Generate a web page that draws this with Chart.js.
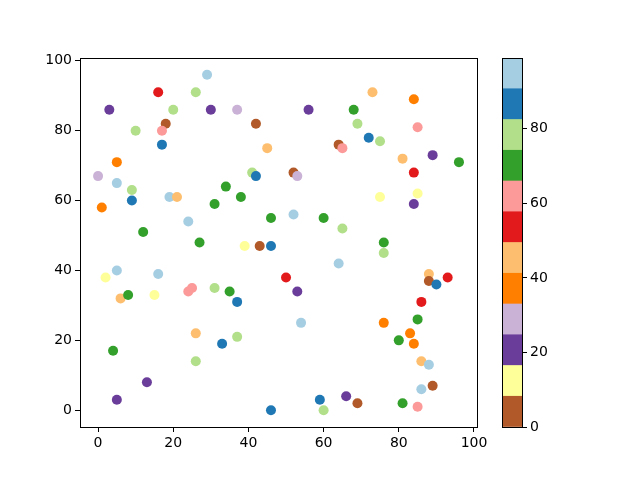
<!DOCTYPE html>
<html>
<head>
<meta charset="utf-8">
<script src="https://cdn.jsdelivr.net/npm/chart.js@4"></script>
<style>
  body { margin: 0; background: #fff; }
  #wrap { position: relative; width: 640px; height: 480px; }
  #wrap canvas { position: absolute; left: 0; top: 0; }
</style>
</head>
<body>
<div id="wrap">
  <canvas id="scatter" width="640" height="480"></canvas>
  <canvas id="cbar" width="640" height="480"></canvas>
</div>
<script>
// point data
const xs = [29, 16, 26, 3, 20, 30, 37, 18, 42, 10, 17, 17, 45, 5, 0, 41, 42, 5, 9, 9,
  19, 21, 1, 34, 38, 31, 46, 24, 12, 27, 73, 84, 56, 68, 69, 85, 72, 75, 64, 65,
  81, 89, 96, 84, 52, 53, 75, 85, 84, 52, 60, 65, 76, 39, 43, 46, 5, 16, 2, 6,
  8, 15, 24, 25, 31, 35, 37, 26, 33, 37, 4, 26, 13, 5, 46, 76, 64, 50, 53, 88,
  88, 90, 93, 86, 85, 54, 76, 83, 80, 84, 86, 88, 86, 89, 59, 66, 69, 81, 85, 60];
const ys = [96, 91, 91, 86, 86, 86, 86, 82, 82, 80, 80, 76, 75, 71, 67, 68, 67, 65, 63, 60,
  61, 61, 58, 64, 61, 59, 55, 54, 51, 48, 91, 89, 86, 86, 82, 81, 78, 77, 76, 75,
  72, 73, 71, 68, 68, 67, 61, 62, 59, 56, 55, 52, 48, 47, 47, 47, 40, 39, 38, 32,
  33, 33, 34, 35, 35, 34, 31, 22, 19, 21, 17, 14, 8, 3, 0, 45, 42, 38, 34, 39,
  37, 36, 38, 31, 26, 25, 25, 22, 20, 19, 14, 13, 6, 7, 3, 4, 2, 2, 1, 0];
const cs = [95, 54, 78, 21, 78, 21, 29, 4, 4, 78, 62, 87, 45, 37, 29, 78, 87, 95, 78, 87,
  95, 45, 37, 70, 70, 70, 70, 95, 70, 70, 45, 37, 21, 70, 78, 62, 87, 78, 4, 62,
  45, 21, 70, 54, 4, 29, 12, 12, 21, 95, 70, 78, 70, 12, 4, 87, 95, 95, 12, 45,
  70, 12, 62, 62, 78, 70, 87, 45, 87, 78, 70, 78, 21, 21, 87, 78, 95, 54, 21, 45,
  4, 87, 54, 54, 70, 95, 37, 37, 70, 37, 45, 95, 95, 4, 87, 21, 4, 70, 62, 78];

const axisTicks = [0, 20, 40, 60, 80, 100];
const cbarTicks = [0, 20, 40, 60, 80];
const cMin = 0;
const cMax = 99;
// Paired colormap, reversed (bottom of colorbar first)
const cmapColors = ['#b15928', '#ffff99', '#6a3d9a', '#cab2d6', '#ff7f00', '#fdbf6f',
  '#e31a1c', '#fb9a99', '#33a02c', '#b2df8a', '#1f78b4', '#a6cee3'];

const colorFor = v => {
  const i = Math.floor((v - cMin) / (cMax - cMin) * cmapColors.length);
  return cmapColors[Math.max(0, Math.min(cmapColors.length - 1, i))];
};

const tickFont = { family: 'DejaVu Sans', size: 14 };

const framePlugin = {
  id: 'frame',
  afterDraw(chart) {
    const a = chart.chartArea, ctx = chart.ctx;
    ctx.save();
    ctx.strokeStyle = '#000';
    ctx.lineWidth = 1;
    ctx.strokeRect(Math.round(a.left) + 0.5, Math.round(a.top) + 0.5,
      Math.round(a.right - a.left), Math.round(a.bottom - a.top));
    ctx.restore();
  }
};

const axisOpts = (extra) => Object.assign({
  type: 'linear',
  min: -4.8,
  max: 100.8,
  grid: { drawOnChartArea: false, tickLength: 5, color: '#000' },
  border: { color: '#000' },
  ticks: { color: '#000', font: tickFont, padding: 3 },
  afterBuildTicks: s => { s.ticks = axisTicks.map(v => ({ value: v })); }
}, extra);

new Chart(document.getElementById('scatter'), {
  type: 'scatter',
  data: {
    datasets: [{
      data: xs.map((x, i) => ({ x, y: ys[i] })),
      pointBackgroundColor: cs.map(colorFor),
      pointBorderWidth: 0,
      pointRadius: 5,
      pointHoverRadius: 5
    }]
  },
  options: {
    responsive: false,
    animation: false,
    layout: { padding: { left: 0, top: 58, right: 163, bottom: 0 } },
    plugins: { legend: { display: false }, tooltip: { enabled: false } },
    scales: {
      x: axisOpts({ afterFit: s => { s.height = 53; } }),
      y: axisOpts({ afterFit: s => { s.width = 80; } })
    }
  },
  plugins: [framePlugin]
});

const band = (cMax - cMin) / cmapColors.length;
new Chart(document.getElementById('cbar'), {
  type: 'bar',
  data: {
    labels: ['c'],
    datasets: cmapColors.map(col => ({
      data: [band],
      backgroundColor: col,
      borderWidth: 0,
      barPercentage: 1,
      categoryPercentage: 1
    }))
  },
  options: {
    responsive: false,
    animation: false,
    layout: { padding: { left: 502, top: 58, right: 80, bottom: 53 } },
    plugins: { legend: { display: false }, tooltip: { enabled: false } },
    scales: {
      x: { display: false, stacked: true },
      y: {
        stacked: true,
        position: 'right',
        min: cMin,
        max: cMax,
        grid: { drawOnChartArea: false, tickLength: 5, color: '#000' },
        border: { color: '#000' },
        ticks: { color: '#000', font: tickFont, padding: 3 },
        afterBuildTicks: s => { s.ticks = cbarTicks.map(v => ({ value: v })); },
        afterFit: s => { s.width = 38; }
      }
    }
  },
  plugins: [framePlugin]
});
</script>
</body>
</html>
